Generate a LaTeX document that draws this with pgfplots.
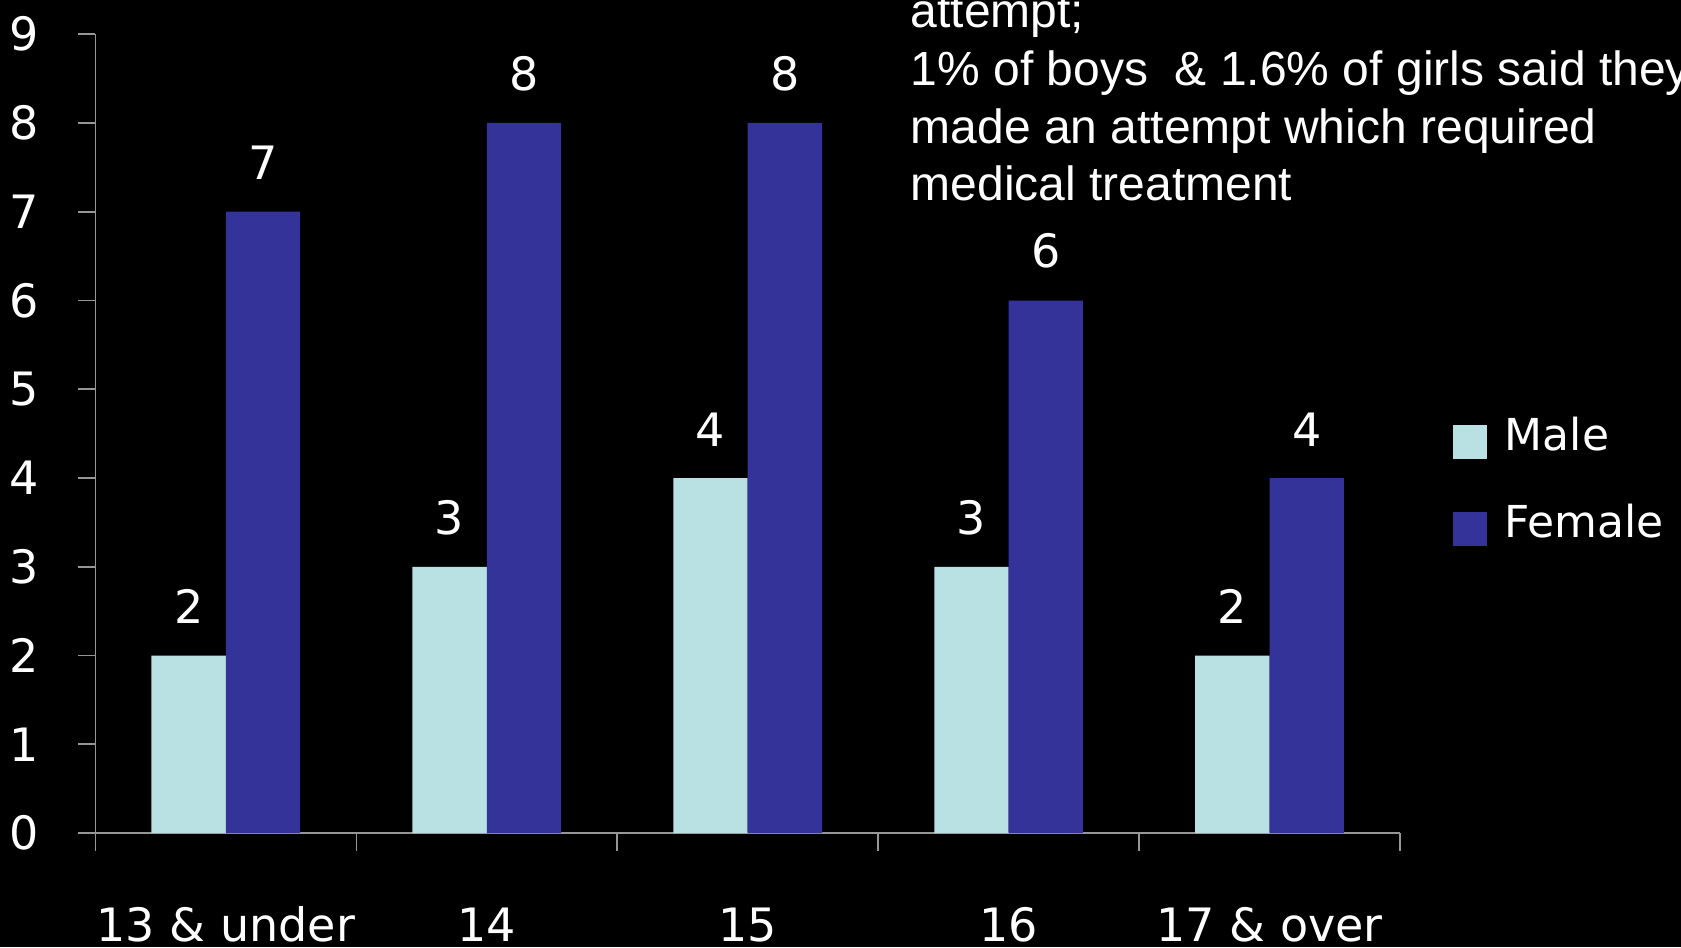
\documentclass[border=0pt]{standalone}
\usepackage{pgfplots}
\pgfplotsset{compat=1.18}
\usepackage{fontspec}
\setmainfont{DejaVu Sans}
\newfontfamily\arialf{Liberation Sans}

\definecolor{maleC}{RGB}{185,224,227}
\definecolor{femaleC}{RGB}{51,51,153}
\definecolor{axisC}{RGB}{150,150,150}

\begin{document}
\begin{tikzpicture}
\fill[black] (0,0) rectangle (420.25pt,236.75pt);
\useasboundingbox (0,0) rectangle (420.25pt,236.75pt);
\begin{axis}[
    at={(23.85pt,28.5pt)}, anchor=south west,
    scale only axis, width=326.15pt, height=199.7pt,
    ybar=0pt, bar width=0.285,
    xmin=-0.5, xmax=4.5, ymin=0, ymax=9,
    xtick={-0.5,0.5,...,4.5}, x tick label as interval,
    xticklabels={13 \& under,14,15,16,17 \& over},
    ytick={0,...,9},
    axis x line*=bottom, axis y line*=left,
    x axis line style={-, draw=axisC, line width=0.7pt},
    y axis line style={-, draw=axisC, line width=0.4pt},
    tick align=outside, major tick length=4.4pt,
    tick style={draw=axisC, line width=0.4pt},
    /pgf/number format/assume math mode=true,
    ticklabel style={font=\fontsize{11.5}{13}\selectfont, text=white},
    xticklabel style={anchor=base, inner sep=0pt, yshift=-22.75pt},
    yticklabel style={anchor=center, xshift=-13.35pt},
    nodes near coords,
    every node near coord/.append style={font=\fontsize{11.5}{13}\selectfont, text=white, anchor=south, inner sep=0pt, yshift=7.8pt},
    legend image code/.code={\fill[#1] (0pt,-5.5pt) rectangle (8.5pt,3pt);},
    legend style={at={(1.0399,0.5218)}, anchor=north west, draw=none, fill=none,
        inner sep=0pt, row sep=11.4pt, column sep=4.5pt,
        nodes={inner sep=0pt, text=white, font=\fontsize{11}{13}\selectfont}},
    legend cell align=left,
]
% Male
\addplot[fill=maleC, draw=none] coordinates {(0,2) (1,3) (2,4) (3,3) (4,2)};
% Female
\addplot[fill=femaleC, draw=none] coordinates {(0,7) (1,8) (2,8) (3,6) (4,4)};
\legend{Male, Female}
\end{axis}

% annotation (cut off at the top and right, as in the slide)
\begin{scope}[every node/.style={anchor=base west, inner sep=0pt, text=white, font=\arialf\fontsize{12}{14}\selectfont}]
\node at (227.5pt,230pt) {attempt;};
\node at (227.5pt,215.5pt) {1\% of boys~ \& 1.6\% of girls said they};
\node at (227.5pt,201pt) {made an attempt which required};
\node at (227.5pt,186.75pt) {medical treatment};
\end{scope}
\end{tikzpicture}
\end{document}
